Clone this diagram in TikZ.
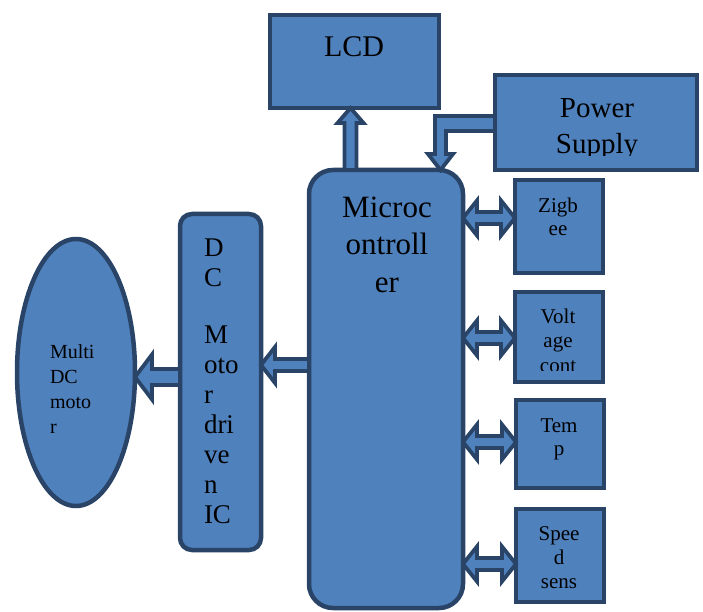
\documentclass[tikz,border=0pt]{standalone}
\usepackage{fontspec}
\setmainfont{Liberation Serif}
\usetikzlibrary{calc,shapes.geometric}
\definecolor{boxfill}{HTML}{4F81BD}
\definecolor{boxline}{HTML}{2A4468}
\tikzset{
  blk/.style={draw=boxline,fill=boxfill,line width=4.5pt,inner sep=0pt,outer sep=0pt},
  arr/.style={draw=boxline,fill=boxfill,line width=3.8pt,line join=miter},
  lbl/.style={inner sep=0pt,outer sep=0pt,text=black},
}
\newcommand\hdbl[3]{%
  \coordinate (tmpy) at (0,#3);
  \draw[arr] (#1.east|-tmpy) -- ++(14,-17.5) -- ++(0,11.5) -- ($(#2.west|-tmpy)+(-14,-6)$) -- ++(0,-11.5)
     -- (#2.west|-tmpy) -- ++(-14,17.5) -- ++(0,-11.5) -- ($(#1.east|-tmpy)+(14,6)$) -- ++(0,11.5) -- cycle;}
\begin{document}
\begin{tikzpicture}[x=1pt,y=-1pt]
\useasboundingbox (0,0) rectangle (703,612);
% blocks
\node[blk,minimum width=169,minimum height=93] (lcd) at (354.5,61.5) {};
\node[blk,minimum width=202,minimum height=95] (power) at (596,122.5) {};
\node[blk,rounded corners=24pt,minimum width=154,minimum height=438] (micro) at (386,389) {};
\node[blk,minimum width=88,minimum height=93] (zig) at (559,226.5) {};
\node[blk,minimum width=88,minimum height=90] (volt) at (559,337) {};
\node[blk,minimum width=88,minimum height=88] (temp) at (560,444) {};
\node[blk,minimum width=88,minimum height=93] (speed) at (560,555.5) {};
\node[blk,rounded corners=12pt,minimum width=81,minimum height=336] (drv) at (220.5,382) {};
\node[blk,ellipse,minimum width=118,minimum height=267] (motor) at (76,372.5) {};
% texts (anchor base = baseline of last line)
\node[lbl,anchor=base,font=\fontsize{30}{36}\selectfont] (lcdt) at (354,57) {LCD};
\begin{scope}
\clip (495,75) rectangle (697,155.5);
\node[lbl,anchor=base,align=center,font=\fontsize{29}{36}\selectfont] (powert) at (597,154) {Power\\Supply};
\end{scope}
\node[lbl,anchor=base,align=center,font=\fontsize{31}{37.5}\selectfont] (microt) at (387,292) {Microc\\ontroll\\er};
\node[lbl,anchor=base,align=center,font=\fontsize{21}{23.5}\selectfont] (zigt) at (558,235.5) {Zigb\\ee};
\begin{scope}
\clip (515,292) rectangle (602,370);
\node[lbl,anchor=base,align=center,font=\fontsize{21}{24.5}\selectfont] (voltt) at (558,372) {Volt\\age\\cont};
\end{scope}
\node[lbl,anchor=base,align=center,font=\fontsize{21}{23.5}\selectfont] (tempt) at (559,455.5) {Tem\\p};
\node[lbl,anchor=base,align=center,font=\fontsize{21}{24}\selectfont] (speedt) at (559,588) {Spee\\d\\sens};
\node[lbl,anchor=base west,align=left,font=\fontsize{27}{30}\selectfont] (drvt) at (204,523) {D\\C\\[27pt]M\\oto\\r\\dri\\ve\\n\\IC};
\node[lbl,anchor=base west,align=left,font=\fontsize{20}{25}\selectfont] (motort) at (50,433) {Multi\\DC\\moto\\r};
% arrows
\coordinate (lx) at (350.5,0);
\draw[arr] (lx|-lcd.south) -- ++(13,15) -- ++(-7,0) -- ($(lx|-micro.north)+(6,0)$) -- ++(-12,0) -- ($(lx|-lcd.south)+(-6,15)$) -- ++(-7,0) -- cycle;
\coordinate (px) at (440.5,0);
\coordinate (py1) at (0,116);
\coordinate (py2) at (0,131);
\draw[arr] (power.west|-py1) -- (435,116) -- (435,154) -- (428,154) -- (px|-micro.north) -- (453,154) -- (446,154) -- (446,131) -- (power.west|-py2) -- cycle;
\hdbl{micro}{zig}{218}
\hdbl{micro}{volt}{338}
\hdbl{micro}{temp}{442}
\hdbl{micro}{speed}{564}
\coordinate (ay1) at (0,365);
\draw[arr] (drv.east|-ay1) -- ++(14,-18) -- ++(0,12) -- ($(micro.west|-ay1)+(0,-6)$) -- ++(0,12) -- ($(drv.east|-ay1)+(14,6)$) -- ++(0,12) -- cycle;
\coordinate (ay2) at (0,377);
\draw[arr] (motor.east|-ay2) -- ++(17,-22.5) -- ++(0,14.5) -- ($(drv.west|-ay2)+(0,-8)$) -- ++(0,16) -- ($(motor.east|-ay2)+(17,8)$) -- ++(0,14.5) -- cycle;
\end{tikzpicture}
\end{document}
